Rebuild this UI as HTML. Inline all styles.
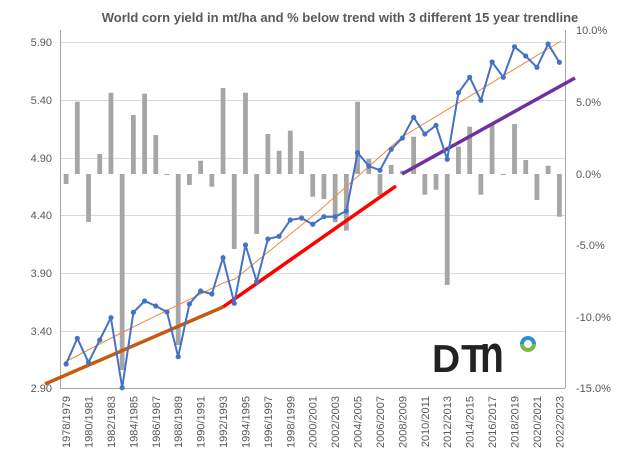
<!DOCTYPE html>
<html><head><meta charset="utf-8"><style>body{margin:0;background:#fff}svg{display:block}</style></head><body>
<svg width="640" height="460" xmlns="http://www.w3.org/2000/svg" font-family="Liberation Sans, sans-serif">
<rect width="640" height="460" fill="#fff"/>
<text x="340" y="22" text-anchor="middle" font-size="13" font-weight="bold" fill="#595959">World corn yield in mt/ha and % below trend with 3 different 15 year trendline</text>
<g stroke="#d9d9d9" stroke-width="1">
<line x1="60" x2="565" y1="42.5" y2="42.5"/><line x1="60" x2="565" y1="100.5" y2="100.5"/><line x1="60" x2="565" y1="158.5" y2="158.5"/><line x1="60" x2="565" y1="215.5" y2="215.5"/><line x1="60" x2="565" y1="273.5" y2="273.5"/><line x1="60" x2="565" y1="331.5" y2="331.5"/>
</g>
<g stroke="#a6a6a6" stroke-width="1" fill="none">
<line x1="60.5" y1="30" x2="60.5" y2="388"/><line x1="60" y1="388.5" x2="565" y2="388.5"/><line x1="565.5" y1="30" x2="565.5" y2="388"/>
</g>
<g font-size="11" fill="#595959" text-anchor="end">
<text x="52" y="46">5.90</text><text x="52" y="104">5.40</text><text x="52" y="162">4.90</text><text x="52" y="219">4.40</text><text x="52" y="277">3.90</text><text x="52" y="335">3.40</text><text x="52" y="392">2.90</text>
</g>
<g font-size="11" fill="#595959">
<text x="576" y="34">10.0%</text><text x="576" y="106">5.0%</text><text x="576" y="178">0.0%</text><text x="576" y="249">-5.0%</text><text x="576" y="321">-10.0%</text><text x="576" y="392">-15.0%</text>
</g>
<g id="bars" fill="#a6a6a6"></g>
<polyline points="65,362 123,332 223,283 235,279 320,210 402,137 561,41" fill="none" stroke="#f08a3a" stroke-width="1"/>
<line x1="45" y1="384" x2="223" y2="307" stroke="#c55a11" stroke-width="3.5"/>
<line x1="223" y1="307" x2="396" y2="186" stroke="#ff0000" stroke-width="3.5"/>
<line x1="402" y1="174" x2="575" y2="78" stroke="#7030a0" stroke-width="3.5"/>
<polyline id="yl" fill="none" stroke="#4472c4" stroke-width="2"/>
<g id="dots" fill="#4472c4"></g>
<g id="xl" font-size="11" fill="#595959"></g>
<text x="432" y="372" font-size="39" font-weight="bold" fill="#222" letter-spacing="1">DT</text>
<text transform="translate(480,372) scale(1.3,1.75)" font-size="30" font-weight="bold" fill="#222">n</text>
<path d="M522,344 A6,6 0 0 1 534,344" fill="none" stroke="#2a8fd0" stroke-width="4"/>
<path d="M522,344 A6,6 0 0 0 534,344" fill="none" stroke="#7ab648" stroke-width="4"/>
<script>
var ys=[364,338.3,362.3,340,317.7,387.7,312.3,301,306,312,356.7,304,291,294,257.7,303.3,245,281.7,239,236.3,220,218,224.3,216.7,216.7,211,152.7,166,170.3,149.3,138,117.3,134,125.3,159.3,92.7,77.3,100.3,62,77.3,46.7,56,67.3,44,62.3];
var bs=[184,101.7,222,154,92.7,370,115,93.7,135,175,345,185,160.7,186.7,88,249,92.7,234,134,150.7,130.7,151,196.7,199,222.3,230.7,101.7,159,195,165,170.7,136.7,194.7,189.7,285,146.7,126.7,194.7,124.3,175,124,160,200,165.7,216.7];
var ns="http://www.w3.org/2000/svg",pts=[],b=document.getElementById('bars'),d=document.getElementById('dots'),xl=document.getElementById('xl');
for(var i=0;i<45;i++){var x=60.5+11.21*(i+0.5);pts.push(x.toFixed(1)+","+ys[i]);
var r=document.createElementNS(ns,'rect');var t=Math.min(174,bs[i]),h=Math.max(1,Math.abs(bs[i]-174));r.setAttribute('x',x-2.4);r.setAttribute('y',t);r.setAttribute('width',4.8);r.setAttribute('height',h);b.appendChild(r);
var c=document.createElementNS(ns,'circle');c.setAttribute('cx',x);c.setAttribute('cy',ys[i]);c.setAttribute('r',2.6);d.appendChild(c);
if(i%2==0){var tx=document.createElementNS(ns,'text');tx.setAttribute('transform','translate('+(x+4)+',396) rotate(-90)');tx.setAttribute('text-anchor','end');tx.textContent=(1978+i)+'/'+(1979+i);xl.appendChild(tx);}}
document.getElementById('yl').setAttribute('points',pts.join(' '));
</script>
</svg>
</body></html>
